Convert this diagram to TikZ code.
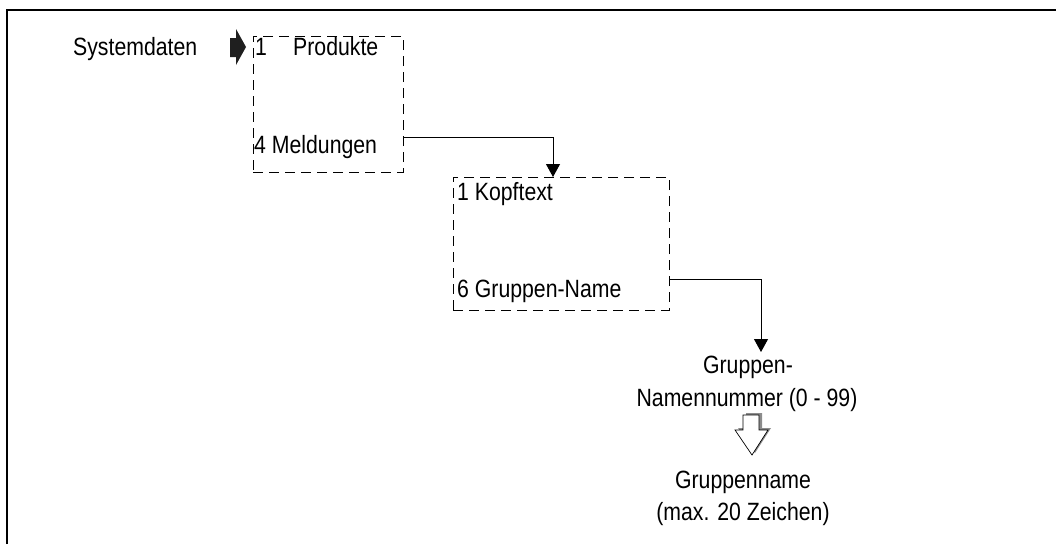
\documentclass[tikz,border=0pt]{standalone}
\usepackage{fontspec}
\setmainfont{Liberation Sans}[FakeStretch=0.85]
\usetikzlibrary{arrows.meta}
\begin{document}
\begin{tikzpicture}[x=1pt,y=-1pt,
  lbl/.style={inner sep=0pt,font=\fontsize{25}{33}\selectfont},
  dbox/.style={draw,dash pattern=on 10pt off 6pt,line width=1pt,inner sep=0pt},
  conn/.style={line width=1pt,-{Triangle[width=14pt,length=13pt]}}]
\useasboundingbox (0,0) rectangle (1056,544);
\draw[line width=2pt] (7,544) -- (7,10) -- (1056,10);
% left label and block arrow
\node[lbl,anchor=base west] (sys) at (73,55) {Systemdaten};
\fill[black!88] (230,38) -- (236,38) -- (236,29) -- (246,47) -- (236,65) -- (236,57) -- (230,57) -- cycle;
% box 1
\node[dbox,minimum width=150pt,minimum height=136pt] (box1) at (328,104) {};
\node[lbl,anchor=base west] (p1) at (255,55) {1};
\node[lbl,anchor=base west] (p2) at (293,55) {Produkte};
\node[lbl,anchor=base west] (p4) at (254,153) {4 Meldungen};
% box 2
\node[dbox,minimum width=216pt,minimum height=133pt] (box2) at (561,243.5) {};
\node[lbl,anchor=base west] (k1) at (457,200) {1 Kopftext};
\node[lbl,anchor=base west] (k6) at (457,297) {6 Gruppen-Name};
% connectors
\coordinate (s1) at (box1.east |- 0,137);
\coordinate (t1) at (553,177);
\draw[conn] (s1) -| (t1);
\coordinate (s2) at (box2.east |- 0,279);
\coordinate (t2) at (761,352);
\draw[conn] (s2) -| (t2);
% result texts
\node[lbl,anchor=base] (g1) at (748,373) {Gruppen-};
\node[lbl,anchor=base] (g2) at (747,406) {Namennummer (0 - 99)};
% hollow arrow with shadow
\fill[black!45] (746,413) -- (762,413) -- (762,428) -- (771,428) -- (755,453) -- (738,428) -- (746,428) -- cycle;
\draw[fill=white,line width=0.7pt] (743,415) -- (759,415) -- (759,430) -- (768,430) -- (752,455) -- (735,430) -- (743,430) -- cycle;
\node[lbl,anchor=base] (n1) at (743,488) {Gruppenname};
\node[lbl,anchor=base] (n2) at (743,520) {(max. 20 Zeichen)};
\end{tikzpicture}
\end{document}
